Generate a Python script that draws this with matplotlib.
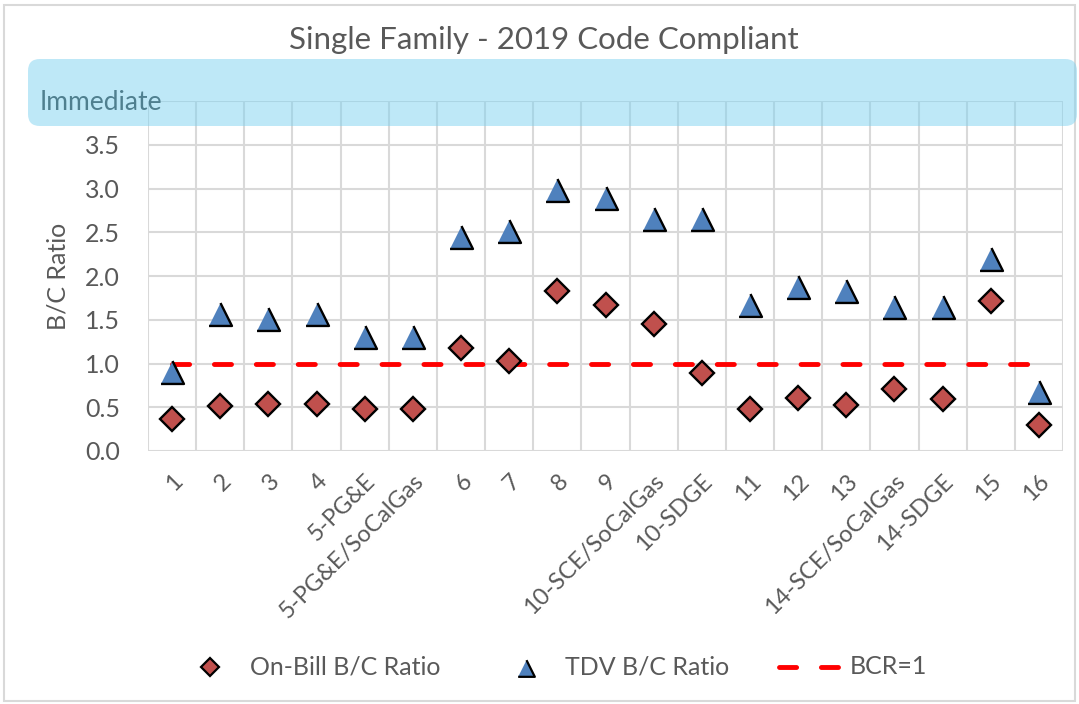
import matplotlib
matplotlib.use("Agg")
import matplotlib.pyplot as plt
from matplotlib.patches import FancyBboxPatch, Rectangle
from matplotlib.lines import Line2D

categories = ["1", "2", "3", "4", "5-PG&E", "5-PG&E/SoCalGas", "6", "7", "8", "9",
              "10-SCE/SoCalGas", "10-SDGE", "11", "12", "13", "14-SCE/SoCalGas",
              "14-SDGE", "15", "16"]
on_bill = [0.37, 0.52, 0.54, 0.54, 0.48, 0.48, 1.18, 1.03, 1.83, 1.67,
           1.45, 0.89, 0.48, 0.61, 0.53, 0.71, 0.60, 1.72, 0.30]
tdv = [0.90, 1.57, 1.51, 1.57, 1.30, 1.30, 2.45, 2.52, 2.98, 2.89,
       2.65, 2.65, 1.67, 1.88, 1.83, 1.65, 1.65, 2.20, 0.68]
bcr = [1.0] * len(categories)
yticks = [0.0, 0.5, 1.0, 1.5, 2.0, 2.5, 3.0, 3.5]
legend_labels = ["On-Bill B/C Ratio", "TDV B/C Ratio", "BCR=1"]

FONT = "Lato"
TXT = "#595959"
RED = "#C0504D"
BLUE = "#4F81BD"
plt.rcParams['font.family'] = [FONT, 'DejaVu Sans']

W, H = 1079, 704
fig = plt.figure(figsize=(W / 100, H / 100), dpi=100)
L, R, B, T = 148, 1063, 451, 101
ax = fig.add_axes([L / W, 1 - B / H, (R - L) / W, (B - T) / H])

TRI = [(-1, -1), (1, -1), (0, 1)]
DASH = (0, (3.52, 5.1))
x = list(range(len(categories)))
ax.plot(x, bcr, color="#FF0000", lw=3.5, linestyle=DASH,
        dash_capstyle='round', zorder=2)
ax.plot(x, tdv, linestyle='none', marker=TRI, markersize=16.5, markerfacecolor=BLUE,
        markeredgecolor="black", markeredgewidth=1.7, zorder=3)
ax.plot(x, on_bill, linestyle='none', marker='D', markersize=12, markerfacecolor=RED,
        markeredgecolor="black", markeredgewidth=1.7, zorder=3)

ax.set_xlim(-0.5, len(categories) - 0.5)
ax.set_ylim(0, 4.0)
ax.set_yticks(yticks)
ax.set_yticklabels([f"{v:.1f}" for v in yticks], fontsize=18, color=TXT)
ax.set_xticks(x)
ax.set_xticklabels(categories, rotation=45, ha='right', rotation_mode='anchor',
                   fontsize=17, color=TXT)
ax.set_xticks([i - 0.5 for i in range(len(categories) + 1)], minor=True)
ax.tick_params(axis='both', which='both', length=0)
ax.tick_params(axis='x', pad=14)
ax.tick_params(axis='y', pad=20)
ax.grid(True, which='minor', axis='x', color="#D9D9D9", lw=1.5)
ax.grid(True, which='major', axis='y', color="#D9D9D9", lw=1.5)
ax.set_axisbelow(True)
for s in ax.spines.values():
    s.set_visible(False)
ax.axhline(4.0, color="#D9D9D9", lw=1.5, zorder=0)
ax.set_ylabel("B/C Ratio", fontsize=18, color=TXT)
ax.yaxis.set_label_coords((70 - L) / (R - L), 0.5)

# title
fig.text(544 / W, 1 - 40 / H, "Single Family - 2019 Code Compliant", ha='center', va='center',
         fontsize=22.5, color=TXT)

# Immediate band
bx0, bx1, by0, by1 = 28, 1077, 59, 126
box = FancyBboxPatch((bx0 / W, 1 - by1 / H), (bx1 - bx0) / W, (by1 - by0) / H,
                     boxstyle="round,pad=0,rounding_size=0.011",
                     transform=fig.transFigure, facecolor="#7FD2F0", alpha=0.5,
                     edgecolor='none', zorder=5, mutation_aspect=W / H)
fig.add_artist(box)
fig.text(40 / W, 1 - 103 / H, "Immediate", ha='left', va='center', fontsize=19,
         color="#4F7F8F", zorder=6)

# outer border
fig.add_artist(Rectangle((4 / W, 3 / H), 1 - 8 / W, 1 - 8 / H, transform=fig.transFigure,
                         fill=False, edgecolor="#D9D9D9", lw=1.5))

# legend (manual placement)
ly = 1 - 667 / H
fig.add_artist(Line2D([210 / W], [ly], transform=fig.transFigure, linestyle='none',
                      marker='D', markersize=9.2, markerfacecolor=RED,
                      markeredgecolor="black", markeredgewidth=1.6))
fig.add_artist(Line2D([526 / W], [1 - 668 / H], transform=fig.transFigure, linestyle='none',
                      marker=TRI, markersize=12, markerfacecolor=BLUE,
                      markeredgecolor="black", markeredgewidth=1.6))
fig.add_artist(Line2D([778.5 / W, 837.5 / W], [ly, ly], transform=fig.transFigure,
                      color="#FF0000", lw=3.5, linestyle=DASH, dash_capstyle='round'))
for xpos, lab in zip([250, 565, 850], legend_labels):
    fig.text(xpos / W, ly, lab, ha='left', va='center', fontsize=18, color=TXT)

fig.savefig("out.png", dpi=100)
